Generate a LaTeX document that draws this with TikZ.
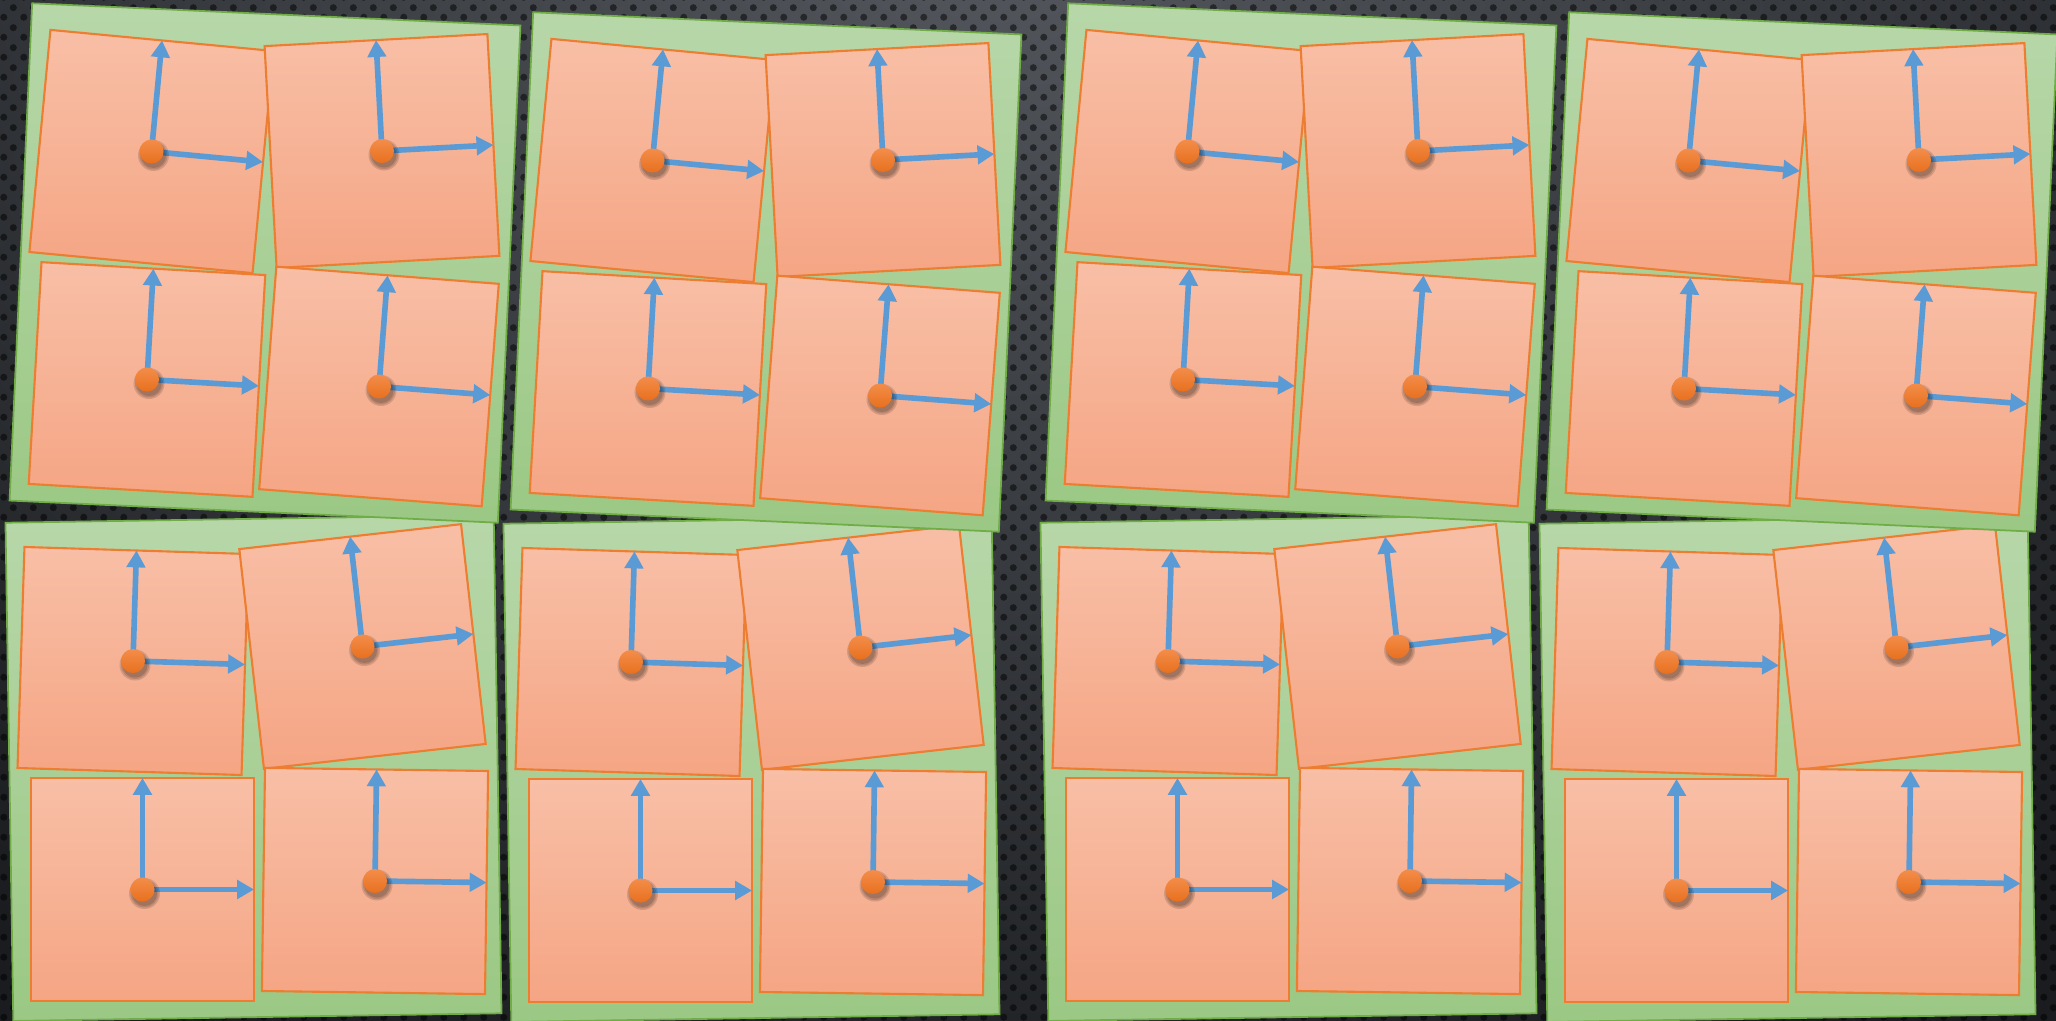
\documentclass[tikz,border=0pt]{standalone}
\usepackage{xcolor}
\usepackage{tikz}
\usetikzlibrary{arrows.meta, patterns}
\definecolor{boardDark}{HTML}{1A1C1F}
\definecolor{boardLight}{HTML}{55595F}
\definecolor{paneTop}{HTML}{B7D7A9}
\definecolor{paneBottom}{HTML}{9BC884}
\definecolor{paneLine}{HTML}{70AD47}
\definecolor{tileTop}{HTML}{F8BFA6}
\definecolor{tileBottom}{HTML}{F5A584}
\definecolor{tileLine}{HTML}{ED7D31}
\definecolor{axisBlue}{HTML}{5B9BD5}
\definecolor{pivotTop}{HTML}{F38D4A}
\definecolor{pivotBottom}{HTML}{E8701E}
\pgfdeclarepatternformonly{perforated}{\pgfpointorigin}{\pgfqpoint{5.69pt}{5.69pt}}{\pgfqpoint{5.69pt}{5.69pt}}{%
  \pgfpathcircle{\pgfqpoint{1.42pt}{1.42pt}}{1.05pt}%
  \pgfpathcircle{\pgfqpoint{4.27pt}{4.27pt}}{1.05pt}%
  \pgfusepath{fill}}

\begin{document}
\begin{tikzpicture}[
  x=0.01cm, y=-0.01cm,
  pane/.style 2 args={draw=paneLine, line width=0.5pt, top color=paneTop, bottom color=paneBottom,
              inner sep=0pt, outer sep=0pt, minimum width=#1cm, minimum height=#2cm},
  tile/.style 2 args={draw=tileLine, line width=0.6pt, top color=tileTop, bottom color=tileBottom,
              inner sep=0pt, outer sep=0pt, minimum width=#1cm, minimum height=#2cm},
  axisarrow/.style={-{Triangle[length=4.8pt, width=5.2pt]}, line width=1.6pt, draw=axisBlue},
  pivot/.style={circle, minimum size=0.24cm, inner sep=0pt, top color=pivotTop, bottom color=pivotBottom},
  blur/.style={fill=black, opacity=0.13}
]

\useasboundingbox (0,0) rectangle (2056,1021);
\clip (0,0) rectangle (2056,1021);
\fill[boardDark] (0,0) rectangle (2056,1021);
\shade[inner color=boardLight, outer color=boardDark] (1000,-100) ellipse (1600 and 1300);
\fill[pattern=perforated, pattern color=black, opacity=0.5] (0,0) rectangle (2056,1021);

% lower row
\foreach \p/\dx/\dy in {E/0/0, F/498/1, G/1035/0, H/1534/1} {
  \begin{scope}[shift={(\dx,\dy)}]
    \node[pane={4.88}{4.98}, rotate=0.9] (\p) at (253.5,768) {};
    \node[tile={2.24}{2.21}, rotate=-1.8] (\p1) at (133,661) {};
    \node[tile={2.23}{2.21}, rotate=6.4] (\p2) at (362.5,646.5) {};
    \node[tile={2.23}{2.23}] (\p3) at (142.5,889.5) {};
    \node[tile={2.23}{2.23}, rotate=-0.8] (\p4) at (375,881) {};
    \foreach \k in {1,...,4} {
      \draw[axisarrow] (\p\k.center) -- (\p\k.north);
      \draw[axisarrow] (\p\k.center) -- (\p\k.east);
      \foreach \r in {0.155,0.14,0.125}
        \fill[blur] ([shift={(0.02cm,-0.04cm)}]\p\k.center) circle (\r cm);
      \node[pivot] (\p\k-o) at (\p\k.center) {};
    }
  \end{scope}
}

% upper row
\foreach \p/\dx/\dy in {A/0/0, B/501/9, C/1036/0, D/1537/9} {
  \begin{scope}[shift={(\dx,\dy)}]
    \node[pane={4.885}{4.975}, rotate=-2.6] (\p) at (265,263) {};
    \node[tile={2.24}{2.23}, rotate=-5.4] (\p1) at (151.5,151.5) {};
    \node[tile={2.23}{2.22}, rotate=3.1] (\p2) at (382,151) {};
    \node[tile={2.24}{2.22}, rotate=-3.3] (\p3) at (147,379.5) {};
    \node[tile={2.23}{2.23}, rotate=-4.4] (\p4) at (379,386.5) {};
    \foreach \k in {1,...,4} {
      \draw[axisarrow] (\p\k.center) -- (\p\k.north);
      \draw[axisarrow] (\p\k.center) -- (\p\k.east);
      \foreach \r in {0.155,0.14,0.125}
        \fill[blur] ([shift={(0.02cm,-0.04cm)}]\p\k.center) circle (\r cm);
      \node[pivot] (\p\k-o) at (\p\k.center) {};
    }
  \end{scope}
}

\end{tikzpicture}
\end{document}
